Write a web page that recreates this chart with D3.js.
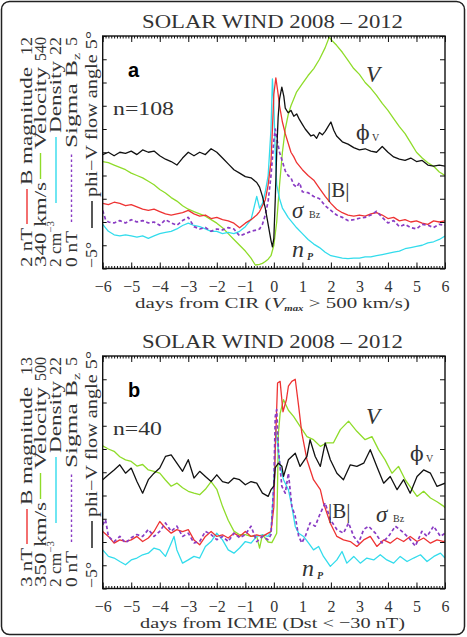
<!DOCTYPE html>
<html><head><meta charset="utf-8">
<script src="https://cdn.jsdelivr.net/npm/d3@7"></script>
<style>body{margin:0;background:#fff}svg{display:block}</style>
</head><body>
<svg id="c" width="467" height="637"></svg>
<script>
// ---------------- data ----------------
const dayTicks = [-6,-5,-4,-3,-2,-1,0,1,2,3,4,5,6];
const chartTitle = "SOLAR WIND 2008 \u2013 2012";
const panelLetters = ["a", "b"];
const eventCounts = ["n=108", "n=40"];

// axis ranges (bottom, top) per quantity
const rangesA = {B:[2,12], V:[340,540], N:[2,22], S:[0,5], P:[-5,5]};
const rangesB = {B:[3,13], V:[350,500], N:[2,22], S:[0,5], P:[-5,5]};
const seriesNames = ["B magnitude", "Velocity", "Density", "Sigma B", "phi\u2212V flow angle 5\u00b0"];
const lowLabelsA = ["2 nT", "340 km/s", "2 cm", "0 nT", "\u22125\u00b0"];
const highLabelsA = ["12", "540", "22", "5", ""];
const lowLabelsB = ["3 nT", "350 km/s", "2 cm", "0 nT", "\u22125\u00b0"];
const highLabelsB = ["13", "500", "22", "5", ""];

// Panel a: days from CIR
const bA = [[-6,4.8],[-5.8,4.75],[-5.6,4.85],[-5.4,4.8],[-5.2,4.7],[-5,4.75],[-4.8,4.65],[-4.6,4.55],[-4.4,4.5],[-4.2,4.55],[-4,4.45],[-3.8,4.35],[-3.6,4.3],[-3.4,4.35],[-3.2,4.4],[-3,4.5],[-2.8,4.35],[-2.6,4.25],[-2.4,4.3],[-2.2,4.15],[-2,4.2],[-1.8,4.1],[-1.6,4.05],[-1.4,3.95],[-1.2,3.75],[-1,3.95],[-0.8,4.1],[-0.6,4.3],[-0.5,4.45],[-0.4,4.7],[-0.3,4.95],[-0.2,5.6],[-0.1,6.6],[-0.05,8.0],[0,9.5],[0.07,10.2],[0.15,9.5],[0.2,9.0],[0.3,8.3],[0.4,7.8],[0.5,7.4],[0.6,7.0],[0.7,6.8],[0.8,6.55],[1,6.25],[1.2,6.0],[1.4,5.8],[1.6,5.45],[1.8,5.1],[2,4.8],[2.2,4.55],[2.4,4.4],[2.6,4.3],[2.8,4.25],[3,4.3],[3.2,4.25],[3.4,4.35],[3.6,4.4],[3.8,4.3],[4,4.15],[4.2,4.2],[4.4,4.05],[4.6,4.1],[4.8,4.0],[5,4.05],[5.2,3.95],[5.4,3.9],[5.6,4.05],[5.8,4.0],[6,4.05]];
const vA = [[-6,432],[-5.8,431],[-5.6,429],[-5.4,427],[-5.2,425],[-5,422],[-4.8,420],[-4.6,418],[-4.4,415],[-4.2,412],[-4,408],[-3.8,405],[-3.6,401],[-3.4,398],[-3.2,394],[-3,391],[-2.8,389],[-2.6,387],[-2.4,385],[-2.2,382],[-2,379],[-1.8,375],[-1.6,370],[-1.4,365],[-1.2,360],[-1,355],[-0.8,349],[-0.65,343],[-0.5,343.6],[-0.4,344.4],[-0.3,346],[-0.2,348],[-0.1,351],[0,360],[0.1,380],[0.2,412],[0.3,440],[0.4,460],[0.5,472],[0.6,480],[0.8,492],[1,499],[1.2,506],[1.4,512],[1.6,520],[1.8,530],[1.94,539],[2,537],[2.2,532],[2.4,526],[2.6,519],[2.8,512],[3,507],[3.2,500],[3.4,495],[3.6,489],[3.8,482],[4,476],[4.2,469],[4.4,462],[4.6,456],[4.8,448],[5,440],[5.2,435],[5.4,431],[5.6,428],[5.8,423],[6,420]];
const nA = [[-6,5.8],[-5.8,5.2],[-5.6,4.9],[-5.4,4.8],[-5.2,4.9],[-5,4.8],[-4.8,4.7],[-4.6,4.8],[-4.4,4.6],[-4.2,4.8],[-4,5.0],[-3.8,5.1],[-3.6,5.2],[-3.4,5.4],[-3.2,5.7],[-3,5.9],[-2.8,5.7],[-2.6,5.6],[-2.4,5.4],[-2.2,5.2],[-2,5.2],[-1.8,5.0],[-1.6,5.1],[-1.4,5.0],[-1.2,5.2],[-1,5.6],[-0.8,6.2],[-0.6,8.2],[-0.5,7.2],[-0.4,7.6],[-0.3,8.6],[-0.2,10.0],[-0.1,14.0],[-0.05,18.3],[0,16.0],[0.05,12.0],[0.1,9.2],[0.2,8.0],[0.3,7.2],[0.4,6.8],[0.5,6.4],[0.6,6.1],[0.8,5.5],[1,5.0],[1.2,4.5],[1.4,4.1],[1.6,3.8],[1.8,3.4],[2,3.1],[2.2,3.0],[2.4,2.9],[2.6,2.85],[2.8,2.9],[3,2.9],[3.2,3.0],[3.4,3.0],[3.6,3.1],[3.8,3.2],[4,3.3],[4.2,3.4],[4.4,3.5],[4.6,3.7],[4.8,3.8],[5,3.9],[5.2,4.0],[5.4,4.2],[5.6,4.3],[5.8,4.5],[6,4.8]];
const sA = [[-6,1.25],[-5.9,1.05],[-5.8,1.0],[-5.6,0.98],[-5.4,1.03],[-5.2,0.98],[-5,1.05],[-4.8,1.0],[-4.6,1.03],[-4.4,0.98],[-4.2,1.0],[-4,0.93],[-3.8,1.05],[-3.6,0.98],[-3.4,0.93],[-3.2,1.03],[-3,1.1],[-2.8,0.9],[-2.6,0.85],[-2.4,0.88],[-2.2,0.8],[-2,0.85],[-1.8,0.83],[-1.6,0.88],[-1.4,0.85],[-1.2,0.7],[-1,0.75],[-0.8,0.8],[-0.6,0.83],[-0.5,0.85],[-0.4,0.95],[-0.3,1.15],[-0.2,1.45],[-0.1,2.0],[0,2.75],[0.05,3.0],[0.1,2.8],[0.2,2.5],[0.3,2.3],[0.4,2.1],[0.5,2.0],[0.6,1.95],[0.7,1.8],[0.8,1.75],[0.9,1.85],[1,1.65],[1.2,1.63],[1.4,1.55],[1.6,1.5],[1.8,1.35],[2,1.25],[2.2,1.15],[2.4,1.1],[2.6,1.03],[2.8,1.05],[3,1.08],[3.2,1.1],[3.4,1.15],[3.6,1.23],[3.8,1.1],[4,0.98],[4.2,1.03],[4.4,0.9],[4.6,0.95],[4.8,0.88],[5,0.85],[5.2,0.95],[5.4,0.93],[5.6,0.88],[5.8,0.95],[6,0.93]];
const pA = [[-6,-0.1],[-5.8,0.0],[-5.6,-0.15],[-5.4,0.0],[-5.2,-0.05],[-5,0.05],[-4.8,-0.1],[-4.6,0.1],[-4.4,0.0],[-4.2,0.05],[-4,-0.15],[-3.8,-0.3],[-3.6,-0.4],[-3.4,-0.55],[-3.2,-0.25],[-3,0.0],[-2.8,-0.15],[-2.6,0.0],[-2.4,-0.1],[-2.2,0.15],[-2,0.0],[-1.8,-0.25],[-1.6,-0.5],[-1.4,-0.75],[-1.2,-0.9],[-1,-1.05],[-0.8,-1.1],[-0.6,-1.3],[-0.5,-1.5],[-0.4,-1.9],[-0.3,-2.4],[-0.2,-3.1],[-0.1,-3.8],[-0.05,-4.07],[0,-3.7],[0.05,-2.0],[0.1,0.0],[0.15,1.5],[0.2,2.3],[0.28,2.8],[0.35,2.4],[0.4,1.9],[0.5,1.7],[0.6,1.8],[0.7,1.55],[0.8,1.65],[0.9,1.4],[1,1.2],[1.1,1.0],[1.2,0.85],[1.3,0.7],[1.4,0.75],[1.5,0.6],[1.6,0.85],[1.7,0.75],[1.8,0.9],[1.9,1.1],[2,1.3],[2.1,0.95],[2.2,0.7],[2.4,0.45],[2.6,0.35],[2.8,0.2],[3,0.1],[3.2,0.15],[3.4,0.05],[3.6,0.0],[3.8,0.25],[4,0.0],[4.2,-0.2],[4.4,-0.3],[4.6,-0.35],[4.8,-0.25],[5,-0.4],[5.2,-0.35],[5.4,-0.55],[5.6,-0.6],[5.8,-0.55],[6,-0.6]];

// Panel b: days from ICME
const bB = [[-6,5.45],[-5.8,5.24],[-5.6,4.95],[-5.4,5.09],[-5.2,5.02],[-5,5.09],[-4.8,5.24],[-4.6,5.02],[-4.4,5.17],[-4.2,5.45],[-4,5.88],[-3.8,5.6],[-3.6,5.38],[-3.4,5.53],[-3.2,5.45],[-3,5.53],[-2.8,5.09],[-2.6,4.88],[-2.4,5.24],[-2.2,5.45],[-2,5.24],[-1.8,5.31],[-1.6,5.17],[-1.4,5.38],[-1.2,5.24],[-1,5.45],[-0.8,5.24],[-0.6,5.31],[-0.4,5.24],[-0.2,5.38],[-0.1,5.45],[0,6.5],[0.05,8.97],[0.13,11.84],[0.22,11.91],[0.32,10.6],[0.44,11.12],[0.51,11.7],[0.63,11.91],[0.75,12.0],[0.87,10.83],[0.98,9.69],[1.16,8.54],[1.39,7.68],[1.63,7.25],[1.74,6.67],[1.98,5.81],[2.21,5.24],[2.44,5.09],[2.68,5.02],[2.91,4.81],[3.15,5.09],[3.38,5.24],[3.61,4.81],[3.85,5.09],[4.08,4.95],[4.32,5.17],[4.55,5.02],[4.78,5.24],[5.02,5.02],[5.25,5.17],[5.49,4.95],[5.72,5.09],[5.96,5.02],[6,5.05]];
const vB = [[-6,442],[-5.8,440],[-5.6,438.5],[-5.4,435],[-5.2,433],[-5,432],[-4.8,429],[-4.6,430],[-4.4,426.5],[-4.2,425.6],[-4,424.4],[-3.8,420],[-3.6,416],[-3.4,418],[-3.2,415],[-3,412.7],[-2.8,411.5],[-2.6,410.5],[-2.4,414],[-2.2,419],[-2,414],[-1.8,403],[-1.6,394],[-1.4,387],[-1.2,384.7],[-1,384.7],[-0.8,383.6],[-0.6,383.6],[-0.5,376],[-0.4,384.7],[-0.2,380],[-0.07,379.6],[0,382],[0.1,385.7],[0.16,450],[0.22,463],[0.34,471.8],[0.51,465],[0.69,461],[0.92,454.6],[1.16,448],[1.39,446],[1.63,441.7],[1.86,444],[2.09,444],[2.33,452.5],[2.62,458],[2.91,451.4],[3.2,446],[3.44,448],[3.67,439.6],[3.9,433],[4.14,424.4],[4.37,428.8],[4.61,420],[4.85,413.8],[5.02,409.4],[5.25,412.7],[5.49,408.4],[5.72,406],[5.96,403],[6,402]];
const nB = [[-6,5.32],[-5.8,4.76],[-5.6,4.62],[-5.4,4.32],[-5.2,4.04],[-5,4.46],[-4.8,4.62],[-4.6,4.9],[-4.4,5.04],[-4.2,5.48],[-4,5.32],[-3.8,4.76],[-3.6,5.9],[-3.5,6.48],[-3.4,5.32],[-3.2,4.18],[-3,4.46],[-2.8,4.76],[-2.6,4.62],[-2.4,5.62],[-2.2,6.04],[-2,6.76],[-1.8,6.18],[-1.6,5.32],[-1.4,5.04],[-1.2,5.48],[-1,6.04],[-0.8,5.9],[-0.6,6.48],[-0.4,6.62],[-0.2,6.48],[-0.1,6.9],[0,11.0],[0.07,15.7],[0.22,12.5],[0.34,11.36],[0.51,10.5],[0.63,9.06],[0.75,7.34],[0.87,6.76],[1.04,6.48],[1.22,5.9],[1.39,5.32],[1.57,5.62],[1.74,4.76],[1.98,3.9],[2.21,4.46],[2.39,5.18],[2.56,4.18],[2.8,4.76],[3.03,4.18],[3.26,4.62],[3.5,4.46],[3.73,4.9],[3.96,4.46],[4.2,4.18],[4.43,4.76],[4.67,4.32],[4.9,4.62],[5.14,4.9],[5.37,4.32],[5.61,4.76],[5.84,5.04],[6,4.62]];
const sB = [[-6,1.37],[-5.9,1.48],[-5.8,1.12],[-5.6,1.01],[-5.4,1.12],[-5.2,0.98],[-5,1.09],[-4.8,1.16],[-4.6,1.12],[-4.4,1.27],[-4.2,1.12],[-4,1.23],[-3.8,1.41],[-3.6,1.23],[-3.4,1.34],[-3.2,1.12],[-3,1.19],[-2.8,0.98],[-2.6,1.01],[-2.4,1.23],[-2.2,1.16],[-2,1.05],[-1.8,1.12],[-1.6,1.01],[-1.4,1.19],[-1.2,1.09],[-1,1.16],[-0.8,1.34],[-0.6,1.01],[-0.4,1.12],[-0.2,1.05],[-0.1,1.16],[0,2.25],[0.05,3.7],[0.1,3.85],[0.16,2.99],[0.28,2.2],[0.4,2.05],[0.51,2.48],[0.63,1.77],[0.75,1.55],[0.87,1.12],[0.98,0.98],[1.1,1.12],[1.27,1.41],[1.45,1.34],[1.63,1.62],[1.8,1.84],[1.98,1.48],[2.21,1.27],[2.44,1.19],[2.62,1.41],[2.8,1.12],[2.97,0.98],[3.15,1.27],[3.32,1.34],[3.56,1.19],[3.79,0.98],[4.02,1.12],[4.26,1.34],[4.49,1.23],[4.73,1.09],[4.96,0.91],[5.19,1.23],[5.37,1.12],[5.6,1.34],[5.84,1.12],[6,1.19]];
const pB = [[-6,-0.32],[-5.8,-0.11],[-5.6,0.1],[-5.4,0.32],[-5.2,-0.04],[-5,0.18],[-4.8,-0.4],[-4.6,-0.9],[-4.4,-0.32],[-4.2,-0.04],[-4,0.18],[-3.8,0.68],[-3.6,0.75],[-3.4,0.39],[-3.2,0.04],[-3,0.54],[-2.8,-0.25],[-2.6,0.04],[-2.4,-0.18],[-2.2,-0.4],[-2,-0.11],[-1.8,-0.4],[-1.6,-0.47],[-1.4,-0.25],[-1.2,-0.32],[-1,-0.54],[-0.8,-0.4],[-0.6,-0.47],[-0.4,-0.9],[-0.2,-1.04],[-0.1,-0.75],[0,-0.6],[0.05,0.2],[0.16,0.39],[0.28,0.26],[0.34,-0.18],[0.51,0.54],[0.75,0.82],[0.92,0.25],[1.16,0.68],[1.27,1.4],[1.45,0.68],[1.63,0.25],[1.8,1.26],[1.98,0.54],[2.21,-0.04],[2.44,-0.32],[2.68,0.32],[2.91,0.25],[3.15,0.39],[3.38,0.97],[3.61,0.25],[3.85,-0.47],[4.08,-0.18],[4.32,-0.75],[4.55,-0.32],[4.78,-0.9],[5.02,-0.18],[5.25,0.1],[5.49,-0.04],[5.72,-0.61],[6,-0.47]];

// --------------- drawing ---------------
const svg = d3.select("#c");
const SERIF = "'Liberation Serif','Times New Roman',serif";
const TXT = "#333";
const COL = {B:"#ee3333", V:"#8fdc2a", N:"#33dcec", S:"#8a3cc4", P:"#111"};

svg.append("rect").attr("x",1.5).attr("y",1.5).attr("width",463).attr("height",633)
  .attr("rx",8).attr("fill","none").attr("stroke","#222").attr("stroke-width",1.5);

const L = 102.7, R = 445;
const x = d3.scaleLinear().domain([-6,6]).range([L,R]);

const panels = [
  {oy:0, ranges:rangesA, data:{B:bA,V:vA,N:nA,S:sA,P:pA}, low:lowLabelsA, high:highLabelsA,
   letter:panelLetters[0], count:eventCounts[0], countLen:61},
  {oy:320, ranges:rangesB, data:{B:bB,V:vB,N:nB,S:sB,P:pB}, low:lowLabelsB, high:highLabelsB,
   letter:panelLetters[1], count:eventCounts[1], countLen:49}
];

// layout of the rotated multi-colour y-axis label lines
const labelLayout = [
  {bx:32,   lowY:267, lowLen:39, seg:[224,189], nameY:185, nameLen:118, highLen:18, col:"B"},
  {bx:45.5, lowY:267, lowLen:85, seg:[179,153], nameY:149, nameLen:82,  highLen:24, col:"V"},
  {bx:61,   lowY:267, lowLen:46, seg:[203,137], nameY:133, nameLen:72,  highLen:18, col:"N"},
  {bx:76.5, lowY:267, lowLen:36, seg:[222,152], nameY:148, nameLen:95,  highLen:9,  col:"S", dash:"2.5,2.5", sub:"z"},
  {bx:97,   lowY:268, lowLen:26, seg:[228,201], nameY:197, nameLen:166, highLen:0,  col:"P"}
];

panels.forEach((p,i) => {
  const top = 36 + p.oy, bot = 268.5 + p.oy;
  const g = svg.append("g");
  const div = d3.scaleLinear().domain([0,10]).range([bot,top]);

  g.append("text").attr("x",142).attr("y",28+p.oy).attr("textLength",261).attr("lengthAdjust","spacingAndGlyphs")
    .attr("font-family",SERIF).attr("font-size",19).attr("fill",TXT).text(chartTitle);

  const cid = "clip"+i;
  svg.append("clipPath").attr("id",cid).append("rect").attr("x",L).attr("y",top).attr("width",R-L).attr("height",bot-top);

  const lg = g.append("g").attr("clip-path",`url(#${cid})`);
  ["V","N","B","S","P"].forEach(k => {
    const y = d3.scaleLinear().domain(p.ranges[k]).range([bot,top]);
    const line = d3.line().x(d=>x(d[0])).y(d=>y(d[1]));
    lg.append("path").datum(p.data[k]).attr("d",line).attr("fill","none")
      .attr("stroke",COL[k]).attr("stroke-width", k==="S"?1.7:1.3)
      .attr("stroke-dasharray", k==="S"?"3.5,2.5":null)
      .attr("stroke-linejoin","round");
  });

  g.append("rect").attr("x",L).attr("y",top).attr("width",R-L).attr("height",bot-top)
    .attr("fill","none").attr("stroke","#111").attr("stroke-width",1.4);

  const minor = d3.range(-60,61).map(v=>v/10);
  const axB = g.append("g").attr("transform",`translate(0,${bot})`)
    .call(d3.axisBottom(x).tickValues(dayTicks).tickSize(-6).tickPadding(12)
      .tickFormat(d => d<0 ? "\u2212"+(-d) : String(d)));
  axB.select(".domain").remove();
  axB.selectAll("text").attr("font-family",SERIF).attr("font-size",16).attr("fill",TXT);
  axB.selectAll("line").attr("stroke","#111");
  const axBm = g.append("g").attr("transform",`translate(0,${bot})`)
    .call(d3.axisBottom(x).tickValues(minor).tickSize(-2.5).tickFormat(""));
  axBm.select(".domain").remove(); axBm.selectAll("line").attr("stroke","#111");
  const axT = g.append("g").attr("transform",`translate(0,${top})`)
    .call(d3.axisTop(x).tickValues(dayTicks).tickSize(-6).tickFormat(""));
  axT.select(".domain").remove(); axT.selectAll("line").attr("stroke","#111");
  const axTm = g.append("g").attr("transform",`translate(0,${top})`)
    .call(d3.axisTop(x).tickValues(minor).tickSize(-2.5).tickFormat(""));
  axTm.select(".domain").remove(); axTm.selectAll("line").attr("stroke","#111");
  const axL = g.append("g").attr("transform",`translate(${L},0)`)
    .call(d3.axisLeft(div).ticks(10).tickSize(-4).tickFormat(""));
  axL.select(".domain").remove(); axL.selectAll("line").attr("stroke","#111");
  const axR = g.append("g").attr("transform",`translate(${R},0)`)
    .call(d3.axisRight(div).ticks(10).tickSize(-5).tickFormat(""));
  axR.select(".domain").remove(); axR.selectAll("line").attr("stroke","#111");

  // x title
  const xt = g.append("text").attr("font-family",SERIF).attr("font-size",15.5).attr("fill",TXT)
    .attr("lengthAdjust","spacingAndGlyphs");
  if (i===0) {
    xt.attr("x",135).attr("y",308).attr("textLength",275);
    xt.append("tspan").text("days from CIR (");
    xt.append("tspan").attr("font-style","italic").text("V");
    xt.append("tspan").attr("font-style","italic").attr("font-weight","bold").attr("font-size",8).attr("dy",3).text("max");
    xt.append("tspan").attr("dy",-3).text(" > 500 km/s)");
  } else {
    xt.attr("x",140).attr("y",628).attr("textLength",265).text("days from ICME (Dst < \u221230 nT)");
  }

  g.append("text").attr("x",128).attr("y",77+p.oy).attr("font-family","'Liberation Sans',Arial,sans-serif")
    .attr("font-weight","bold").attr("font-size",20).attr("fill","#000").text(p.letter);
  g.append("text").attr("x",113).attr("y",115+p.oy).attr("font-family",SERIF).attr("font-size",18)
    .attr("fill",TXT).attr("textLength",p.countLen).attr("lengthAdjust","spacingAndGlyphs").text(p.count);

  // left rotated labels
  const rot = (xx,yy,anchor,len) => {
    const t = g.append("text")
      .attr("transform",`translate(${xx},${yy+p.oy}) rotate(-90)`).attr("text-anchor",anchor)
      .attr("font-family",SERIF).attr("font-size",16).attr("fill",TXT);
    if (len) t.attr("textLength",len).attr("lengthAdjust","spacingAndGlyphs");
    return t;
  };
  labelLayout.forEach((c,j) => {
    const lo = rot(c.bx, c.lowY, "start", c.lowLen);
    lo.append("tspan").text(p.low[j]);
    if (j===2) lo.append("tspan").attr("font-size",10).attr("dy",-7).text("\u22123");
    g.append("line").attr("x1",c.bx-5).attr("x2",c.bx-5)
      .attr("y1",c.seg[0]+p.oy).attr("y2",c.seg[1]+p.oy).attr("stroke",COL[c.col]).attr("stroke-width",1.4)
      .attr("stroke-dasharray",c.dash||null);
    const nm = rot(c.bx, c.nameY, "start", c.nameLen);
    nm.append("tspan").text(seriesNames[j]);
    if (c.sub) nm.append("tspan").attr("font-size",10).attr("dy",3).text(c.sub);
    if (p.high[j]) rot(c.bx, 37, "end", c.highLen).text(p.high[j]);
  });
});

// in-plot annotations
const ann = (xx,yy,txt,opt) => svg.append("text").attr("x",xx).attr("y",yy)
    .attr("font-family",opt.family||SERIF)
    .attr("font-size",opt.size||20).attr("fill",TXT).attr("font-style",opt.italic?"italic":null)
    .attr("font-weight",opt.bold?"bold":null).text(txt);
const PHI = "'DejaVu Serif','Liberation Serif',serif";
// panel a
ann(366,82,"V",{italic:true,size:23});
ann(356,140,"\u03d5",{size:20,family:PHI}); ann(372,141,"V",{size:10});
ann(327,197,"|B|",{size:21});
ann(292,218,"\u03c3",{italic:true,size:23}); ann(309,218,"Bz",{size:10});
ann(292,257,"n",{italic:true,size:24}); ann(307,260,"P",{italic:true,bold:true,size:10});
// panel b
ann(366,424,"V",{italic:true,size:23});
ann(410,461,"\u03d5",{size:20,family:PHI}); ann(426,462,"V",{size:10});
ann(328,518,"|B|",{size:21});
ann(376,522,"\u03c3",{italic:true,size:23}); ann(393,522,"Bz",{size:10});
ann(302,576,"n",{italic:true,size:24}); ann(317,579,"P",{italic:true,bold:true,size:10});
</script>
</body></html>
